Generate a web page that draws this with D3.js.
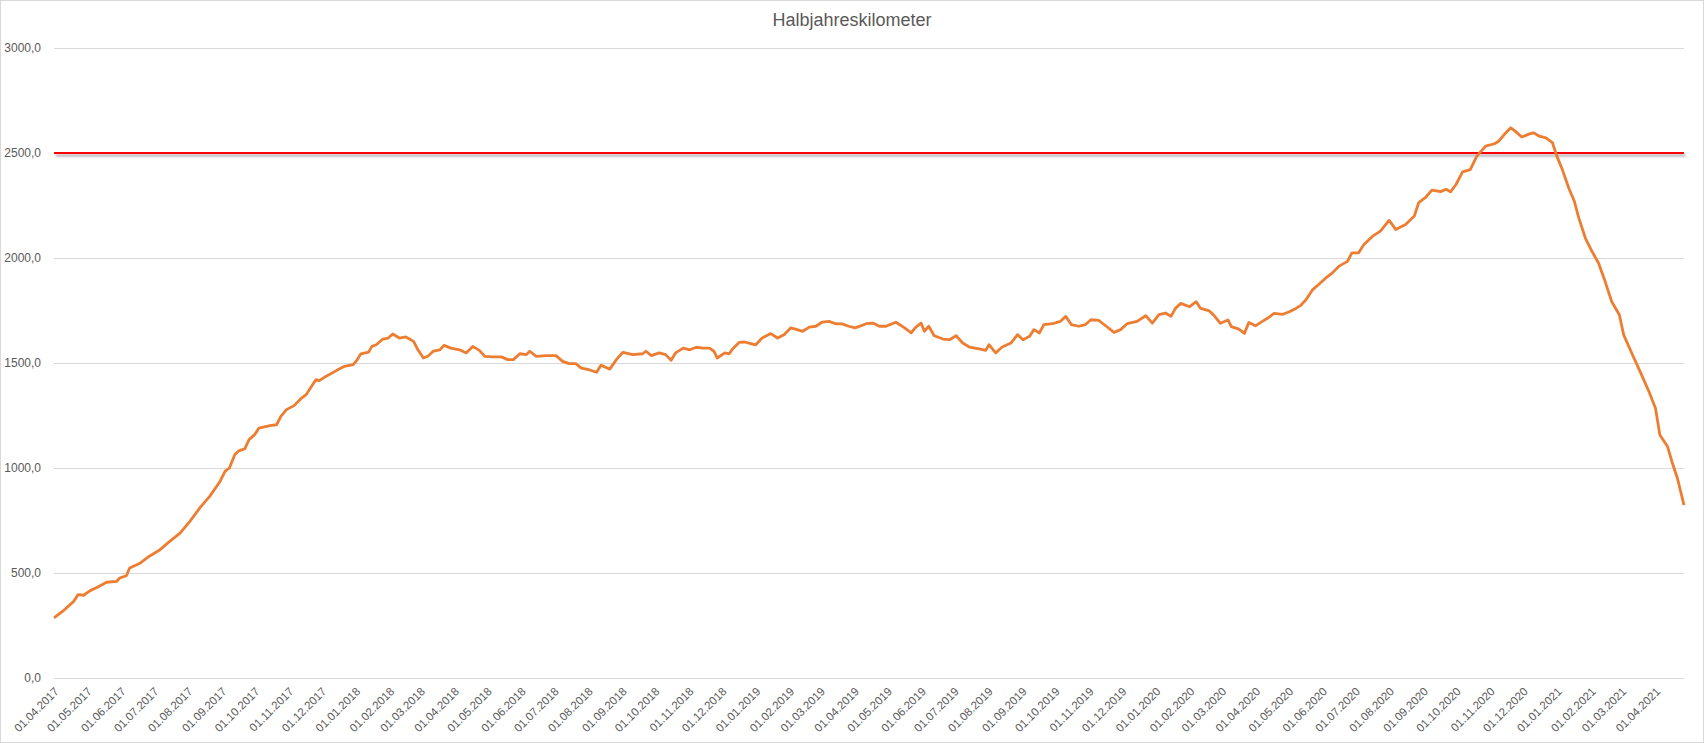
<!DOCTYPE html>
<html>
<head>
<meta charset="utf-8">
<style>
body { margin: 0; background: #fff; }
text { font-family: "Liberation Sans", Arial, sans-serif; fill: #595959; }
</style>
</head>
<body>

<script src="https://d3js.org/d3.v7.min.js"></script>

<script>
var startDate = new Date(2017, 3, 1);

// days after 01.04.2017
var dayOffset = [0, 8, 18, 22, 27, 33, 40, 48, 57, 60, 66, 69, 78, 87, 96, 105, 115, 124, 133, 142,
    151, 156, 160, 165, 169, 174, 178, 183, 187, 197, 203, 207, 212, 219, 225, 230, 239,
    242, 248, 258, 265, 273, 276, 280, 287, 290, 294, 300, 305, 309, 315, 321, 328, 332, 337,
    341, 346, 352, 356, 362, 370, 376, 382, 388, 393, 400, 408, 414, 419, 425, 431, 434, 440,
    449, 458, 464, 470, 476, 481, 488, 495, 499,
    507, 513, 519, 528, 537, 540, 545, 552, 558, 563, 567, 574, 580, 586, 592, 598, 602, 605,
    612, 616, 619, 625, 630, 634, 640, 646, 654, 660, 666, 672, 678, 683, 689, 695, 701, 707,
    713, 719, 725, 731, 741, 747, 753,
    759, 768, 776, 782, 786, 791, 794, 798, 803, 811, 817, 823, 829, 835, 844, 850, 853, 859,
    865, 873, 879, 884, 890, 894, 899, 903, 911, 918, 923, 928, 935, 941, 946, 953, 960, 967,
    973, 979, 988, 996, 1002,
    1008, 1014, 1019, 1023, 1028, 1036, 1042, 1046, 1054, 1058, 1064, 1071, 1074, 1081, 1086,
    1090, 1096, 1102, 1107, 1113, 1121, 1127, 1133, 1137, 1142, 1148, 1154, 1160, 1166, 1172,
    1180, 1184, 1190, 1195, 1203, 1210, 1218, 1224, 1233, 1241, 1245, 1251, 1257, 1265,
    1270, 1274, 1279, 1285, 1292, 1298, 1306, 1314, 1318, 1323, 1329, 1333, 1339, 1346, 1350,
    1355, 1361, 1367, 1371, 1376, 1382, 1387, 1391, 1397, 1403, 1409, 1415, 1421, 1428, 1432,
    1440, 1447, 1455, 1461, 1465, 1472, 1476, 1481, 1487];

var kilometer = [286, 318, 365, 397, 394, 416, 433, 456, 460, 476, 487, 524, 545, 580, 608, 648, 690, 746, 810, 865,
    932, 984, 1000, 1064, 1083, 1091, 1135, 1159, 1190, 1202, 1206, 1246, 1278, 1297, 1329, 1349, 1421,
    1416, 1436, 1465, 1484, 1492, 1511, 1544, 1552, 1579, 1587, 1614, 1619, 1638, 1619, 1624, 1603, 1563, 1524,
    1532, 1556, 1563, 1584, 1571, 1563, 1548, 1579, 1560, 1532, 1529, 1529, 1516, 1516, 1544, 1540, 1556, 1532,
    1535, 1535, 1508, 1497, 1497, 1476, 1468, 1456, 1489,
    1471, 1516, 1551, 1540, 1544, 1556, 1535, 1548, 1540, 1513, 1548, 1571, 1563, 1575, 1571, 1571, 1556, 1524,
    1548, 1544, 1567, 1598, 1600, 1595, 1586, 1619, 1640, 1619, 1635, 1667, 1659, 1651, 1671, 1675, 1695, 1698,
    1687, 1686, 1675, 1667, 1687, 1690, 1675,
    1675, 1694, 1667, 1643, 1670, 1690, 1651, 1675, 1630, 1614, 1611, 1630, 1595, 1576, 1567, 1560, 1587, 1548,
    1576, 1595, 1635, 1611, 1627, 1659, 1643, 1683, 1687, 1698, 1722, 1683, 1675, 1683, 1706, 1703, 1675, 1646,
    1659, 1687, 1698, 1725, 1690,
    1730, 1738, 1722, 1760, 1784, 1768, 1792, 1760, 1748, 1728, 1689, 1705, 1673, 1661, 1641,
    1693, 1677, 1697, 1713, 1736, 1732, 1744, 1760, 1773, 1800, 1848, 1875, 1904, 1928, 1960,
    1984, 2024, 2024, 2064, 2104, 2128, 2179, 2136, 2160, 2200, 2264, 2287, 2323, 2316,
    2327, 2315, 2350, 2410, 2421, 2485, 2533, 2544, 2556, 2588, 2620, 2604, 2576, 2591, 2596,
    2580, 2572, 2549, 2485, 2421, 2331, 2270, 2191, 2095, 2032, 1976, 1889, 1793, 1730, 1634,
    1539, 1459, 1364, 1285, 1157, 1102, 1030, 951, 823];

var ziel = 2500;
var yTicks = [0, 500, 1000, 1500, 2000, 2500, 3000];
var titleText = "Halbjahreskilometer";

var W = 1704, H = 743;
var margin = {top: 48, right: 20, bottom: 65, left: 54},
    width = W - margin.left - margin.right,
    height = H - margin.top - margin.bottom;

var data = dayOffset.map(function(d, i) {
    return {date: d3.timeDay.offset(startDate, d), km: kilometer[i]};
});

var svgRoot = d3.select("body").append("svg")
    .attr("width", W)
    .attr("height", H);

svgRoot.append("rect")
    .attr("x", 0.5).attr("y", 0.5)
    .attr("width", W - 1).attr("height", H - 1)
    .style("fill", "#fff")
    .style("stroke", "#d9d9d9");

// drop shadow for the target line (user space, a flat line has no bbox height)
var defs = svgRoot.append("defs");
defs.append("filter")
    .attr("id", "shadow")
    .attr("filterUnits", "userSpaceOnUse")
    .attr("x", 0).attr("y", 0)
    .attr("width", W).attr("height", H)
  .append("feDropShadow")
    .attr("dx", 1.5).attr("dy", 2.5)
    .attr("stdDeviation", 1.2)
    .attr("flood-color", "#000")
    .attr("flood-opacity", 0.35);

svgRoot.append("text")
    .attr("x", W / 2)
    .attr("y", 26)
    .attr("text-anchor", "middle")
    .style("font-size", "18px")
    .text(titleText);

var svg = svgRoot.append("g")
    .attr("transform", "translate(" + margin.left + "," + margin.top + ")");

var x = d3.scaleTime()
    .domain(d3.extent(data, function(d) { return d.date; }))
    .range([0, width]);
var y = d3.scaleLinear().domain([0, 3000]).range([height, 0]);

var de = d3.formatLocale({decimal: ",", thousands: "", grouping: [3], currency: ["", "€"]});
var fmtY = de.format(".1f");
var fmtX = d3.timeFormat("%d.%m.%Y");

// gridlines + y labels
var yAxis = d3.axisLeft(y)
    .tickValues(yTicks)
    .tickSize(-width)
    .tickPadding(13)
    .tickFormat(fmtY);

var gy = svg.append("g").attr("class", "y axis").call(yAxis);
gy.select(".domain").remove();
gy.selectAll("line").style("stroke", "#d9d9d9");
gy.selectAll("text").style("font-size", "12px").style("fill", "#595959");

// monthly date labels
var xAxis = d3.axisBottom(x)
    .ticks(d3.timeMonth.every(1))
    .tickSize(0)
    .tickFormat(fmtX);

var gx = svg.append("g")
    .attr("class", "x axis")
    .attr("transform", "translate(0," + height + ")")
    .call(xAxis);
gx.select(".domain").remove();
gx.selectAll("text")
    .style("font-size", "11.5px")
    .style("fill", "#595959")
    .style("text-anchor", "end")
    .attr("dx", "0")
    .attr("dy", "0")
    .attr("transform", "translate(3,12) rotate(-45)");

// target line at 2500
var zielLine = d3.line()
    .x(function(d) { return x(d); })
    .y(function() { return y(ziel); });

svg.append("path")
    .attr("d", zielLine(x.domain()))
    .style("fill", "none")
    .style("stroke", "#ff0000")
    .style("stroke-width", 2.2)
    .attr("filter", "url(#shadow)");

var kmLine = d3.line()
    .x(function(d) { return x(d.date); })
    .y(function(d) { return y(d.km); });

svg.append("path")
    .datum(data)
    .attr("d", kmLine)
    .style("fill", "none")
    .style("stroke", "#ed7d31")
    .style("stroke-width", 2.8)
    .style("stroke-linejoin", "round");
</script>
</body>
</html>
